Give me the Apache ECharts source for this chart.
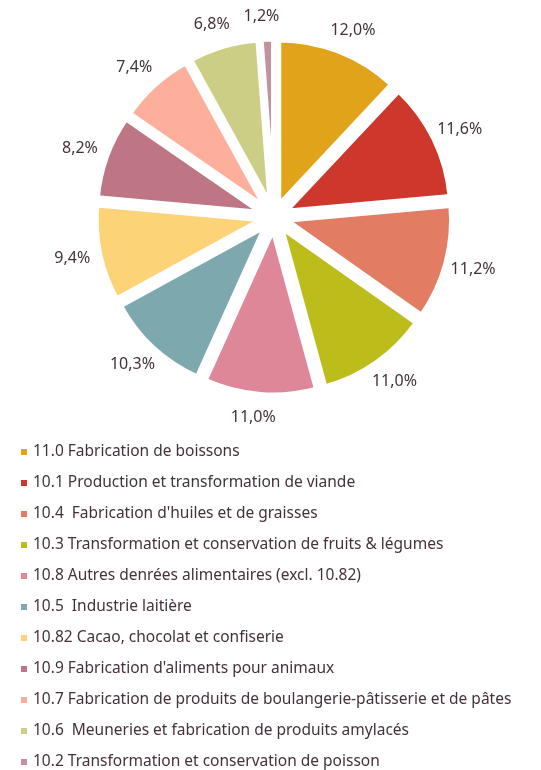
<!DOCTYPE html>
<html>
<head>
<meta charset="utf-8">
<script src="https://cdn.jsdelivr.net/npm/echarts@6/dist/echarts.min.js"></script>
<style>
  html, body { margin: 0; padding: 0; background: #fff; }
  #chart { width: 541px; height: 770px; }
</style>
</head>
<body>
<div id="chart"></div>
<script>
  // secteurs et parts (%)
  const categories = [
    "11.0 Fabrication de boissons",
    "10.1 Production et transformation de viande",
    "10.4  Fabrication d'huiles et de graisses",
    "10.3 Transformation et conservation de fruits & légumes",
    "10.8 Autres denrées alimentaires (excl. 10.82)",
    "10.5  Industrie laitière",
    "10.82 Cacao, chocolat et confiserie",
    "10.9 Fabrication d'aliments pour animaux",
    "10.7 Fabrication de produits de boulangerie-pâtisserie et de pâtes",
    "10.6  Meuneries et fabrication de produits amylacés",
    "10.2 Transformation et conservation de poisson"
  ];
  const shares = [12.0, 11.6, 11.2, 11.0, 11.0, 10.3, 9.4, 8.2, 7.4, 6.8, 1.2];
  const colors = ['#E0A31A', '#CE372B', '#E27C62', '#BCBD1B', '#DE8798', '#7DA8AE',
                  '#FDD378', '#BE7685', '#FEAF9C', '#CDCE86', '#C4919F'];

  const textColor = '#45313b';
  const font = 'Noto Sans';

  let myChart = echarts.init(document.getElementById('chart'));
  let option = {
    color: colors,
    legend: {
      orient: 'vertical',
      left: 14,
      top: 438,
      height: 340,
      icon: 'rect',
      itemWidth: 8,
      itemHeight: 8,
      itemGap: 13,
      selectedMode: false,
      textStyle: { color: textColor, fontFamily: font, fontSize: 15.5, lineHeight: 18 },
      data: categories
    },
    series: [{
      type: 'pie',
      center: [274, 217],
      radius: [0, 165],
      startAngle: 90,
      clockwise: true,
      avoidLabelOverlap: false,
      selectedMode: 'multiple',
      selectedOffset: 13,
      silent: true,
      itemStyle: { borderColor: '#fff', borderWidth: 5 },
      label: {
        show: true,
        position: 'outside',
        color: textColor,
        fontFamily: font,
        fontSize: 16,
        formatter: p => p.value.toFixed(1).replace('.', ',') + '%'
      },
      // ligne invisible : sert seulement de repère pour centrer les étiquettes
      labelLine: { show: true, length: 23, length2: 0, lineStyle: { opacity: 0 } },
      labelLayout: function (p) {
        const pts = p.labelLinePoints;
        if (!pts) return {};
        const a = pts[0], b = pts[1];
        let ux = b[0] - a[0], uy = b[1] - a[1];
        const len = Math.hypot(ux, uy) || 1;
        ux /= len; uy /= len;
        const hw = p.labelRect.width / 2, hh = p.labelRect.height / 2;
        const t = 1.6 * hw * Math.abs(ux) + 1.2 * hh * Math.abs(uy);
        return {
          x: b[0] + ux * t,
          y: b[1] + uy * t,
          align: 'center',
          verticalAlign: 'middle'
        };
      },
      data: categories.map((c, i) => ({ name: c, value: shares[i], selected: true }))
    }]
  };
  myChart.setOption(option);
</script>
</body>
</html>
